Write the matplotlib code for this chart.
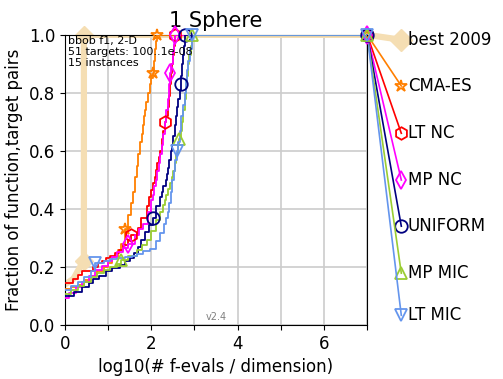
import numpy as np
import matplotlib
matplotlib.use("Agg")
import matplotlib.pyplot as plt

# ECDF data: log10(# f-evals / dimension) vs fraction of (function,target) pairs
best_x = [0, 0.2, 0.35, 0.44, 0.44, 7]
best_y = [0.14, 0.16, 0.2, 0.22, 1.0, 1.0]
best_marks = [0.44, 0.44]
best_marks_y = [0.22, 1.0]

names = ["CMA-ES", "LT NC", "MP NC", "UNIFORM", "MP MIC", "LT MIC"]
colors = ["#ff7f00", "#ff0000", "#ff00ff", "#000080", "#9acd32", "#6495ed"]
markers = ["*", "h", "d", "o", "^", "v"]

cma_x = [0, 0.15, 0.3, 0.45, 0.6, 0.75, 0.9, 1.0, 1.1, 1.23, 1.3, 1.39, 1.47, 1.54, 1.58,
         1.62, 1.66, 1.7, 1.74, 1.78, 1.8, 1.83, 1.85, 1.88, 1.92, 1.96, 2.0, 2.03, 2.06,
         2.09, 2.12, 2.14, 7]
cma_y = [0.123, 0.13, 0.14, 0.155, 0.17, 0.185, 0.2, 0.215, 0.235, 0.26, 0.28, 0.33, 0.38, 0.42,
         0.46, 0.51, 0.55, 0.59, 0.63, 0.66, 0.69, 0.72, 0.74, 0.77, 0.8, 0.83, 0.85, 0.87, 0.91,
         0.95, 0.98, 1.0, 1.0]
ltnc_x = [0, 0.18, 0.31, 0.4, 0.66, 0.77, 0.85, 0.95, 1.04, 1.16, 1.25, 1.35, 1.45, 1.54, 1.7,
          1.77, 1.89, 1.95, 2.0, 2.04, 2.08, 2.11, 2.14, 2.18, 2.21, 2.25, 2.28, 2.31, 2.35,
          2.39, 2.41, 2.43, 2.45, 2.47, 2.5, 2.52, 2.54, 2.55, 7]
ltnc_y = [0.146, 0.158, 0.172, 0.187, 0.2, 0.213, 0.222, 0.23, 0.238, 0.247, 0.26, 0.275, 0.293,
          0.31, 0.335, 0.37, 0.41, 0.44, 0.466, 0.49, 0.51, 0.535, 0.56, 0.58, 0.6, 0.64, 0.67,
          0.70, 0.72, 0.75, 0.79, 0.83, 0.87, 0.9, 0.93, 0.96, 0.98, 1.0, 1.0]
mpnc_x = [0, 0.1, 0.25, 0.4, 0.55, 0.7, 0.85, 1.0, 1.1, 1.2, 1.35, 1.47, 1.62, 1.72, 1.81, 1.93,
          2.0, 2.04, 2.07, 2.1, 2.14, 2.17, 2.2, 2.24, 2.28, 2.32, 2.35, 2.38, 2.41, 2.43, 2.46,
          2.5, 2.53, 2.55, 7]
mpnc_y = [0.093, 0.11, 0.13, 0.15, 0.17, 0.19, 0.205, 0.22, 0.235, 0.253, 0.265, 0.28, 0.31, 0.33,
          0.35, 0.39, 0.43, 0.45, 0.48, 0.5, 0.53, 0.56, 0.59, 0.62, 0.66, 0.7, 0.74, 0.78, 0.83,
          0.87, 0.9, 0.94, 0.97, 1.0, 1.0]
unif_x = [0, 0.2, 0.4, 0.55, 0.66, 0.8, 0.95, 1.1, 1.27, 1.4, 1.5, 1.6, 1.7, 1.77, 1.85, 1.95,
          2.03, 2.12, 2.2, 2.24, 2.28, 2.33, 2.36, 2.39, 2.42, 2.45, 2.48, 2.51, 2.55, 2.58, 2.6,
          2.63, 2.66, 2.68, 2.7, 2.72, 2.74, 2.76, 2.78, 7]
unif_y = [0.1, 0.115, 0.13, 0.145, 0.158, 0.17, 0.185, 0.196, 0.207, 0.22, 0.23, 0.25, 0.27, 0.293,
          0.32, 0.345, 0.37, 0.41, 0.44, 0.46, 0.48, 0.5, 0.52, 0.54, 0.57, 0.6, 0.62, 0.65, 0.69,
          0.72, 0.75, 0.78, 0.81, 0.83, 0.86, 0.9, 0.93, 0.96, 1.0, 1.0]
mpmic_x = [0, 0.15, 0.3, 0.45, 0.6, 0.75, 0.9, 1.05, 1.2, 1.31, 1.45, 1.66, 1.78, 1.89, 2.0, 2.12,
           2.2, 2.28, 2.32, 2.35, 2.39, 2.43, 2.47, 2.51, 2.55, 2.58, 2.62, 2.65, 2.68, 2.71, 2.74,
           2.77, 2.8, 2.83, 2.85, 2.88, 2.91, 2.95, 7]
mpmic_y = [0.106, 0.12, 0.135, 0.15, 0.165, 0.18, 0.19, 0.2, 0.212, 0.224, 0.24, 0.259, 0.275,
           0.293, 0.325, 0.362, 0.39, 0.414, 0.43, 0.45, 0.47, 0.49, 0.51, 0.53, 0.56, 0.59, 0.62,
           0.64, 0.67, 0.7, 0.74, 0.78, 0.82, 0.86, 0.9, 0.93, 0.96, 1.0, 1.0]
ltmic_x = [0, 0.15, 0.3, 0.45, 0.6, 0.7, 0.9, 1.05, 1.2, 1.4, 1.55, 1.66, 1.8, 1.97, 2.1, 2.2,
           2.3, 2.35, 2.39, 2.42, 2.45, 2.48, 2.52, 2.56, 2.6, 2.63, 2.66, 2.7, 2.73, 2.77, 2.8,
           2.83, 2.86, 2.89, 2.94, 7]
ltmic_y = [0.12, 0.135, 0.15, 0.165, 0.185, 0.215, 0.222, 0.228, 0.232, 0.236, 0.24, 0.245, 0.255,
           0.264, 0.29, 0.316, 0.35, 0.37, 0.39, 0.42, 0.46, 0.5, 0.53, 0.57, 0.6, 0.63, 0.67, 0.72,
           0.76, 0.8, 0.84, 0.88, 0.91, 0.95, 1.0, 1.0]

series_x = [cma_x, ltnc_x, mpnc_x, unif_x, mpmic_x, ltmic_x]
series_y = [cma_y, ltnc_y, mpnc_y, unif_y, mpmic_y, ltmic_y]
mark_x = [[1.39, 2.03, 2.14, 7], [1.54, 2.31, 2.55, 7], [1.47, 2.43, 2.55, 7],
          [2.03, 2.68, 2.78, 7], [1.31, 2.65, 2.95, 7], [0.7, 2.6, 2.94, 7]]

# legend label heights on the right side
label_y = [0.824, 0.661, 0.5, 0.341, 0.179, 0.034]
best_label_y = 0.983

fig = plt.figure(figsize=(5.03, 3.79), dpi=100)
ax = fig.add_axes([0.129, 0.142, 0.601, 0.766])

ax.plot(best_x, best_y, color="wheat", lw=4.5, solid_capstyle="butt", zorder=1)
ax.plot(best_marks, best_marks_y, ls="none", marker="D", ms=9, color="wheat", clip_on=False, zorder=1)
ax.plot([7, 7.79], [1.0, best_label_y], color="wheat", lw=4.5, clip_on=False, zorder=1)
ax.plot([7.79], [best_label_y], ls="none", marker="D", ms=11, color="wheat", clip_on=False)
ax.text(7.94, best_label_y, "best 2009", fontsize=12, va="center", ha="left")

for i in range(len(names)):
    xs = np.array(series_x[i])
    ys = np.array(series_y[i])
    ax.plot(xs, ys, drawstyle="steps-post", color=colors[i], lw=1.3, zorder=3)
    mx = np.array(mark_x[i])
    idx = np.searchsorted(xs, mx, side="right") - 1
    my = ys[idx]
    ax.plot(mx, my, ls="none", marker=markers[i], ms=9, mfc="none", mec=colors[i],
            mew=1.3, clip_on=False, zorder=4)
    # connector to the label
    ax.plot([7, 7.79], [1.0, label_y[i]], color=colors[i], lw=1.2, clip_on=False, zorder=2)
    ax.plot([7.79], [label_y[i]], ls="none", marker=markers[i], ms=9, mfc="none",
            mec=colors[i], mew=1.3, clip_on=False)
    ax.text(7.94, label_y[i], names[i], fontsize=12, va="center", ha="left")

ax.set_xlim(0, 7)
ax.set_ylim(0, 1)
ax.set_xticks(range(8))
ax.set_xticklabels(["0", "", "2", "", "4", "", "6", ""])
ax.set_yticks([0, 0.2, 0.4, 0.6, 0.8, 1.0])
ax.tick_params(labelsize=12)
ax.grid(True, color="0.8", lw=1.2)
ax.set_axisbelow(True)

ax.set_xlabel("log10(# f-evals / dimension)", fontsize=12)
ax.set_ylabel("Fraction of function,target pairs", fontsize=12)
ax.set_title("1 Sphere", fontsize=15, pad=6)

ax.text(0.01, 0.995, "bbob f1, 2-D\n51 targets: 100..1e-08\n15 instances",
        transform=ax.transAxes, fontsize=8, va="top", ha="left", linespacing=1.1)
ax.text(0.5, 0.01, "v2.4", transform=ax.transAxes, fontsize=7, color="gray",
        va="bottom", ha="center")

fig.savefig("out.png", dpi=100)
